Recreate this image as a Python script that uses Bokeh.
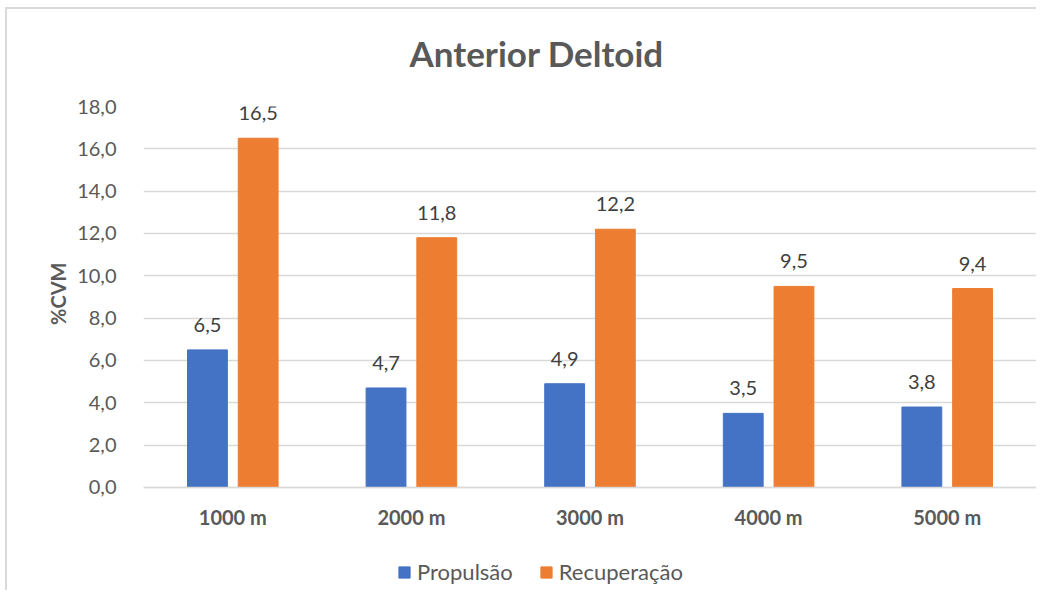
from bokeh.plotting import figure
from bokeh.models import ColumnDataSource, FactorRange, Legend, LegendItem, Range1d, FixedTicker, CustomJSTickFormatter, Title
from bokeh.transform import dodge
from bokeh.core.properties import value
from bokeh.embed import file_html
from bokeh.resources import INLINE

categories = ["1000 m", "2000 m", "3000 m", "4000 m", "5000 m"]
propulsao = [6.5, 4.7, 4.9, 3.5, 3.8]
recuperacao = [16.5, 11.8, 12.2, 9.5, 9.4]
y_ticks = [0, 2, 4, 6, 8, 10, 12, 14, 16, 18]

FONT = "Lato"
BLUE = "#4472C4"
ORANGE = "#ED7D31"

src = ColumnDataSource(dict(
    cat=categories, p=propulsao, r=recuperacao,
    pl=[f"{v:.1f}".replace(".", ",") for v in propulsao],
    rl=[f"{v:.1f}".replace(".", ",") for v in recuperacao],
))

p = figure(width=1036, height=590, x_range=FactorRange(*categories, range_padding=0),
           y_range=Range1d(-4.87, 18), output_backend="svg", toolbar_location=None,
           min_border_left=143, min_border_right=0, min_border_top=106, min_border_bottom=0)
p.border_fill_alpha = 0
p.styles = {
    "background": "linear-gradient(#D9D9D9,#D9D9D9) 5px 7px / 2px 100% no-repeat, "
                  "linear-gradient(#D9D9D9,#D9D9D9) 5px 7px / 100% 2px no-repeat, #FFFFFF",
}

p.title.text = "Anterior Deltoid"
p.title.align = "left"
p.title.vertical_align = "top"
p.title.text_font = FONT
p.title.text_font_size = "35px"
p.title.text_font_style = "bold"
p.title.text_color = "#595959"
p.title.offset = 266
p.title.standoff = 61

ylab = Title(text="%CVM", align="right", offset=156, standoff=10,
             text_font=FONT, text_font_size="20px", text_font_style="bold", text_color="#595959")
p.add_layout(ylab, "left")

b1 = p.vbar(x=dodge("cat", -0.142, range=p.x_range), top="p", width=0.223, source=src,
            fill_color=BLUE, line_color=BLUE)
b2 = p.vbar(x=dodge("cat", 0.142, range=p.x_range), top="r", width=0.223, source=src,
            fill_color=ORANGE, line_color=ORANGE)

p.text(x=dodge("cat", -0.142, range=p.x_range), y="p", text="pl", source=src,
       text_align="center", text_baseline="bottom", y_offset=-18,
       text_font=value(FONT), text_font_size="20px", text_color="#404040")
p.text(x=dodge("cat", 0.142, range=p.x_range), y="r", text="rl", source=src,
       text_align="center", text_baseline="bottom", y_offset=-18,
       text_font=value(FONT), text_font_size="20px", text_color="#404040")

p.yaxis.ticker = FixedTicker(ticks=y_ticks)
p.yaxis.formatter = CustomJSTickFormatter(code="return tick.toFixed(1).replace('.', ',');")
p.yaxis.axis_line_color = None
p.yaxis.major_tick_line_color = None
p.yaxis.minor_tick_line_color = None
p.yaxis.major_label_standoff = 21
p.yaxis.major_label_text_font = FONT
p.yaxis.major_label_text_font_size = "20px"
p.yaxis.major_label_text_color = "#595959"

p.xaxis.fixed_location = 0
p.xaxis.axis_line_color = "#D9D9D9"
p.xaxis.axis_line_width = 1.5
p.xaxis.major_tick_line_color = None
p.xaxis.minor_tick_line_color = None
p.xaxis.major_label_standoff = 12
p.xaxis.major_label_text_font = FONT
p.xaxis.major_label_text_font_size = "20px"
p.xaxis.major_label_text_font_style = "bold"
p.xaxis.major_label_text_color = "#595959"

p.xgrid.grid_line_color = None
p.ygrid.grid_line_color = "#D9D9D9"
p.ygrid.grid_line_width = 1.5
p.outline_line_color = None

legend = Legend(items=[LegendItem(label="Propulsão", renderers=[b1]),
                       LegendItem(label="Recuperação", renderers=[b2])],
                orientation="horizontal", location=(254, 5),
                label_text_font=FONT, label_text_font_size="22px", label_text_color="#595959",
                glyph_width=14, glyph_height=14, spacing=26, label_standoff=6,
                background_fill_alpha=0, border_line_color=None, padding=0, margin=0)
p.add_layout(legend, "center")

open("out.html", "w").write(file_html(p, INLINE))
